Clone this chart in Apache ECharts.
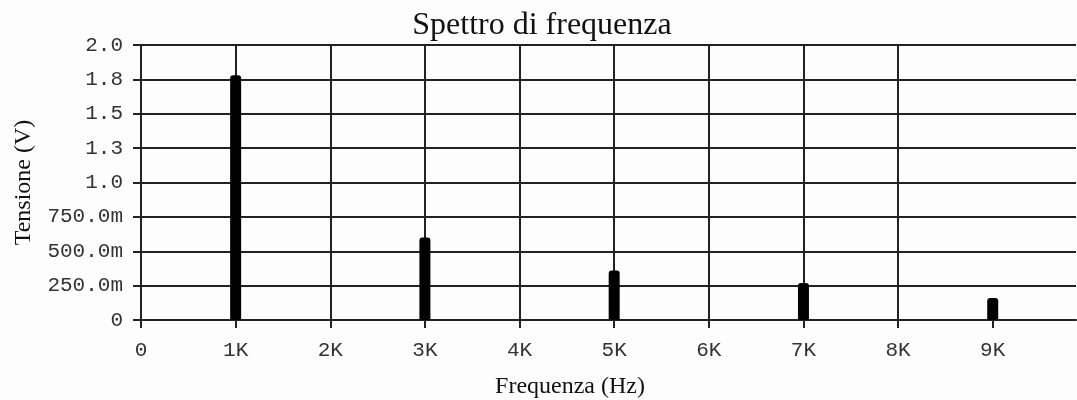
<!DOCTYPE html>
<html>
<head>
<meta charset="utf-8">
<script src="https://cdn.jsdelivr.net/npm/echarts@6/dist/echarts.min.js"></script>
<style>html,body{margin:0;padding:0;background:#fdfdfd;}#c{width:1077px;height:400px;}</style>
</head>
<body>
<div id="c"></div>
<script>
const frequencies = [1000, 3000, 5000, 7000, 9000];
const voltages = [1.78, 0.60, 0.36, 0.27, 0.16];
const yTickLabels = ['0', '250.0m', '500.0m', '750.0m', '1.0', '1.3', '1.5', '1.8', '2.0'];
const xTickLabels = ['0', '1K', '2K', '3K', '4K', '5K', '6K', '7K', '8K', '9K'];

const chart = echarts.init(document.getElementById('c'), null, {renderer: 'canvas'});
const lineCol = '#222';
chart.setOption({
  backgroundColor: '#fdfdfd',
  animation: false,
  title: [
    {text: 'Spettro di frequenza', left: 537, top: 5, textAlign: 'center',
     textStyle: {fontFamily: 'Liberation Serif', fontSize: 32, fontWeight: 'normal', color: '#111'}},
    {text: 'Frequenza (Hz)', left: 565, top: 370, textAlign: 'center',
     textStyle: {fontFamily: 'Liberation Serif', fontSize: 24, fontWeight: 'normal', color: '#111'}}
  ],
  grid: {left: 141, right: 1, top: 45, bottom: 80},
  xAxis: {
    type: 'value', min: 0, max: 9880, interval: 1000,
    axisLine: {show: true, lineStyle: {color: lineCol, width: 2}},
    axisTick: {show: true, length: 8, lineStyle: {color: lineCol, width: 2},
      customValues: xTickLabels.map((_, i) => i * 1000)},
    splitLine: {show: true, showMaxLine: false, lineStyle: {color: lineCol, width: 2}},
    axisLabel: {margin: 20, fontFamily: 'Liberation Mono', fontSize: 21, color: '#333',
      showMaxLabel: false,
      formatter: v => (v % 1000 === 0 ? xTickLabels[Math.round(v / 1000)] : '')}
  },
  yAxis: {
    type: 'value', min: 0, max: 2, interval: 0.25,
    name: 'Tensione (V)', nameLocation: 'middle', nameGap: 105, nameRotate: 90,
    nameTextStyle: {fontFamily: 'Liberation Serif', fontSize: 24, color: '#111'},
    axisLine: {show: true, lineStyle: {color: lineCol, width: 2}},
    axisTick: {show: true, length: 8, lineStyle: {color: lineCol, width: 2}},
    splitLine: {show: true, lineStyle: {color: lineCol, width: 2}},
    axisLabel: {margin: 18, fontFamily: 'Liberation Mono', fontSize: 21, color: '#333',
      formatter: v => yTickLabels[Math.round(v / 0.25)]}
  },
  series: [{
    type: 'bar', barWidth: 11,
    data: frequencies.map((f, i) => [f, voltages[i]]),
    itemStyle: {color: '#000', borderRadius: [3, 3, 0, 0]}
  }]
});
</script>
</body>
</html>
